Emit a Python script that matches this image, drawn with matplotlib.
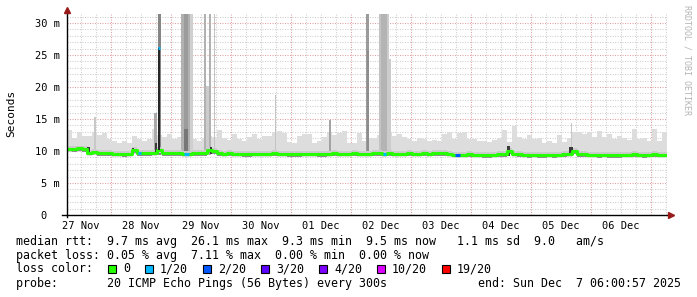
import numpy as np
import matplotlib
matplotlib.use("Agg")
import matplotlib.pyplot as plt
from matplotlib.patches import Rectangle

plt.rcParams['font.family'] = ['DejaVu Sans Mono']

# ---------------- data ----------------
T0 = 6.6        # hours since 27 Nov 00:00 at left edge
STEP = 2.0      # hours per sample bin
N_BINS = 120

smoke_top = [
    13.3, 12.0, 12.9, 12.3, 12.4, 12.9, 12.5, 12.8, 11.8, 11.6,
    11.3, 11.5, 11.3, 12.4, 11.9, 11.6, 11.9, 13.5, 12.5, 12.2,
    12.6, 11.8, 12.2, 12.0, 12.0, 11.9, 11.5, 12.0, 12.4, 12.2,
    13.3, 12.0, 11.7, 12.6, 11.8, 11.5, 12.2, 12.6, 11.8, 12.4,
    12.3, 12.9, 13.2, 12.8, 11.4, 11.3, 12.3, 12.6, 12.6, 11.3,
    11.6, 12.2, 13.0, 12.5, 12.8, 13.2, 11.3, 11.2, 12.8, 11.5,
    12.0, 12.0, 12.5, 12.5, 13.0, 12.4, 12.6, 12.2, 11.9, 11.6,
    12.0, 11.8, 11.5, 11.7, 11.6, 12.6, 12.9, 11.8, 12.8, 13.0,
    11.8, 11.9, 11.5, 11.6, 11.4, 11.7, 12.1, 13.3, 11.4, 13.9,
    12.2, 11.8, 12.5, 11.8, 12.0, 11.3, 11.5, 11.2, 12.5, 11.4,
    12.0, 12.9, 12.9, 12.6, 12.9, 12.2, 13.2, 12.2, 12.6, 11.8,
    12.3, 12.0, 11.7, 13.5, 11.8, 12.0, 11.6, 13.4, 11.6, 13.0,
]

median = [
    10.35, 10.3, 10.4, 10.3, 9.75, 9.9, 9.65, 9.7, 9.65, 9.6,
    9.6, 9.55, 9.6, 10.1, 9.7, 9.65, 9.7, 9.75, 10.2, 9.7,
    9.65, 9.7, 9.65, 9.6, 9.6, 9.65, 9.65, 9.7, 10.1, 10.0,
    9.65, 9.6, 9.65, 9.6, 9.6, 9.55, 9.55, 9.6, 9.6, 9.6,
    9.6, 9.65, 9.6, 9.6, 9.55, 9.5, 9.55, 9.6, 9.6, 9.6,
    9.55, 9.5, 9.6, 9.65, 9.6, 9.6, 9.6, 9.65, 9.6, 9.6,
    9.6, 9.65, 9.7, 9.6, 9.65, 9.6, 9.6, 9.6, 9.65, 9.6,
    9.6, 9.65, 9.6, 9.65, 9.7, 9.7, 9.6, 9.45, 9.45, 9.45,
    9.5, 9.45, 9.45, 9.4, 9.4, 9.45, 9.5, 9.5, 10.0, 9.6,
    9.5, 9.45, 9.4, 9.45, 9.4, 9.4, 9.45, 9.4, 9.45, 9.5,
    9.6, 10.0, 9.55, 9.5, 9.45, 9.45, 9.4, 9.45, 9.4, 9.35,
    9.4, 9.45, 9.45, 9.5, 9.45, 9.4, 9.45, 9.5, 9.45, 9.45,
]

# narrow smoke spikes: start/end (hours), top (ms), density (0 light .. 1 dark)
spike_t0 = [17.4, 41.4, 43.0, 52.2, 53.4, 53.4, 55.0, 55.8, 61.4, 62.2, 63.4, 65.2,
            89.6, 111.4, 126.2, 126.4, 131.4, 132.2, 134.6, 135.4, 208.0]
spike_t1 = [18.2, 42.6, 44.0, 53.4, 55.0, 55.0, 55.8, 57.0, 62.2, 64.2, 64.0, 65.8,
            90.2, 112.2, 127.4, 127.2, 132.2, 134.6, 135.4, 136.2, 208.6]
spike_top = [15.3, 16.0, 31.4, 31.4, 31.4, 13.5, 31.4, 31.4, 31.4, 20.2, 31.4, 31.4,
             18.8, 14.8, 31.4, 25.8, 31.4, 31.4, 31.4, 24.3, 14.4]
spike_density = [0.15, 0.35, 0.6, 0.3, 0.45, 0.7, 0.3, 0.1, 0.3, 0.12, 0.3, 0.18,
                 0.18, 0.4, 0.45, 0.55, 0.18, 0.28, 0.12, 0.12, 0.15]

# dark smoke clusters hugging the median
dark_t0 = [14.6, 32.6, 41.8, 63.8, 182.6, 207.4]
dark_t1 = [15.8, 33.4, 42.6, 64.6, 183.8, 209.0]
dark_lo = [9.3, 9.5, 9.7, 9.5, 9.2, 9.4]
dark_hi = [10.6, 10.5, 11.2, 10.7, 10.8, 10.6]

# median outlier sample (28 Nov)
med_spike_t0, med_spike_t1, med_spike_val, med_spike_loss = 43.0, 43.6, 26.1, 1

# packet loss periods: start/end hours, lost pings (of 20)
loss_t0 = [35.0, 53.4, 133.0, 161.8]
loss_t1 = [36.0, 55.4, 134.2, 163.8]
loss_n = [1, 1, 1, 2]

loss_labels = ["0", "1/20", "2/20", "3/20", "4/20", "10/20", "19/20"]
loss_colors = ["#26ff00", "#00b8ff", "#0059ff", "#5e00ff", "#7e00ff", "#dd00ff", "#ff0000"]
loss_levels = [0, 1, 2, 3, 4, 10, 19]

y_ticks = [0, 5, 10, 15, 20, 25, 30]
y_tick_labels = ["0  ", "5 m", "10 m", "15 m", "20 m", "25 m", "30 m"]
x_tick_labels = ["27 Nov", "28 Nov", "29 Nov", "30 Nov", "01 Dec",
                 "02 Dec", "03 Dec", "04 Dec", "05 Dec", "06 Dec"]

stats_rtt = "median rtt:  9.7 ms avg  26.1 ms max  9.3 ms min  9.5 ms now   1.1 ms sd  9.0   am/s"
stats_loss = "packet loss: 0.05 % avg  7.11 % max  0.00 % min  0.00 % now"
probe_line = "probe:       20 ICMP Echo Pings (56 Bytes) every 300s             end: Sun Dec  7 06:00:57 2025"

# ---------------- figure ----------------
W, H = 697, 297
fig = plt.figure(figsize=(W / 100, H / 100), dpi=100)
fig.patch.set_facecolor("white")
L, R, B, T = 67, 667, 215, 14
ax = fig.add_axes([L / W, 1 - B / H, (R - L) / W, (B - T) / H])
ax.set_facecolor("white")

XMAX = T0 + STEP * N_BINS
ax.set_xlim(T0, XMAX)
ax.set_ylim(0, 31.4)

edges = T0 + STEP * np.arange(N_BINS + 1)
med = np.array(median)
top = np.array(smoke_top)
ext = lambda a: np.append(a, a[-1])

# grid
for v in range(1, 32):
    c = "#e3a0a0" if v % 5 == 0 else "#cfcfcf"
    ax.axhline(v, color=c, lw=0.75, ls=(0, (1, 1.4)), zorder=1)
for hgrid in np.arange(12, XMAX, 6):
    c = "#e3a0a0" if hgrid % 24 == 0 else "#cfcfcf"
    ax.axvline(hgrid, color=c, lw=0.75, ls=(0, (1, 1.4)), zorder=1)

def gray(d):
    g = 0.87 - 0.58 * d
    return (g, g, g)

# smoke
ax.fill_between(edges, ext(med - 0.5), ext(top), step="post", color="#dddddd", lw=0, zorder=2)
for t0, t1, tp, d in zip(spike_t0, spike_t1, spike_top, spike_density):
    ax.bar(t0, tp - 9.3, width=t1 - t0, bottom=9.3, align="edge", color=gray(d), lw=0, zorder=3)
ax.fill_between(edges, ext(med - 0.45), ext(med + 0.45), step="post", color="#cbcbcb", lw=0, zorder=4)
ax.fill_between(edges, ext(med - 0.42), ext(med - 0.1), step="post", color="#8f8f8f", lw=0, zorder=4)
for t0, t1, lo, hi in zip(dark_t0, dark_t1, dark_lo, dark_hi):
    ax.bar(t0, hi - lo, width=t1 - t0, bottom=lo, align="edge", color="#3a3a3a", lw=0, zorder=5)

# median line
ax.step(edges, ext(med), where="post", color=loss_colors[0], lw=2.2, zorder=6)

def color_for(n):
    idx = max(i for i, lv in enumerate(loss_levels) if lv <= n)
    return loss_colors[idx]

# median outlier
i_sp = int((med_spike_t0 - T0) // STEP)
ax.bar(med_spike_t0, med_spike_val - med[i_sp], width=med_spike_t1 - med_spike_t0,
       bottom=med[i_sp], align="edge", color="#262626", lw=0, zorder=6)
ax.plot([med_spike_t0, med_spike_t1], [med_spike_val] * 2, color=color_for(med_spike_loss),
        lw=2.2, solid_capstyle="butt", zorder=7)

for t0, t1, n in zip(loss_t0, loss_t1, loss_n):
    i = int((0.5 * (t0 + t1) - T0) // STEP)
    ax.plot([t0, t1], [med[i]] * 2, color=color_for(n), lw=2.2, solid_capstyle="butt", zorder=7)

# axes / ticks
for s in ax.spines.values():
    s.set_visible(False)
ax.set_yticks(y_ticks)
ax.set_yticklabels(y_tick_labels)
ax.set_xticks([12 + 24 * k for k in range(len(x_tick_labels))])
ax.set_xticklabels(x_tick_labels)
ax.tick_params(axis="both", length=0, labelsize=7.5, colors="#000000")
ax.tick_params(axis="y", pad=5)
ax.tick_params(axis="x", pad=4)

pxw, pxh = R - L, B - T
ax.plot([-5 / pxw, (673 - L) / pxw], [0, 0], color="#000000", lw=1.0,
        transform=ax.transAxes, clip_on=False, zorder=8)
ax.plot([0, 0], [-2 / pxh, 1 + 3 / pxh], color="#000000", lw=1.0,
        transform=ax.transAxes, clip_on=False, zorder=8)
ax.plot([0], [1 + 4 / pxh], marker="^", ms=4.5, color="#9a1a1a", mec="#9a1a1a",
        transform=ax.transAxes, clip_on=False, zorder=9)
ax.plot([(671 - L) / pxw], [0], marker=">", ms=4.5, color="#9a1a1a", mec="#9a1a1a",
        transform=ax.transAxes, clip_on=False, zorder=9)

fig.text(11 / W, 1 - 113 / H, "Seconds", rotation=90, va="center", ha="center", fontsize=8)
fig.text(687 / W, 1 - 5 / H, "RRDTOOL / TOBI OETIKER", rotation=270, va="top", ha="center",
         fontsize=6, color="#b4b4b4")

# legend rows
FS = 8.4
CW = 7.0
fig.text(16 / W, 1 - 241 / H, stats_rtt, fontsize=FS, va="center", ha="left")
fig.text(16 / W, 1 - 256 / H, stats_loss, fontsize=FS, va="center", ha="left")
fig.text(16 / W, 1 - 269 / H, "loss color:", fontsize=FS, va="center", ha="left")
fig.text(16 / W, 1 - 284 / H, probe_line, fontsize=FS, va="center", ha="left")

x = 108
for lab, col in zip(loss_labels, loss_colors):
    fig.add_artist(Rectangle((x / W, 1 - 273 / H), 8 / W, 8 / H, transform=fig.transFigure,
                             facecolor=col, edgecolor="black", lw=0.8))
    fig.text((x + 15) / W, 1 - 269 / H, lab, fontsize=FS, va="center", ha="left")
    x = x + 15 + len(lab) * CW + 15

fig.savefig("out.png", dpi=100, facecolor="white")
